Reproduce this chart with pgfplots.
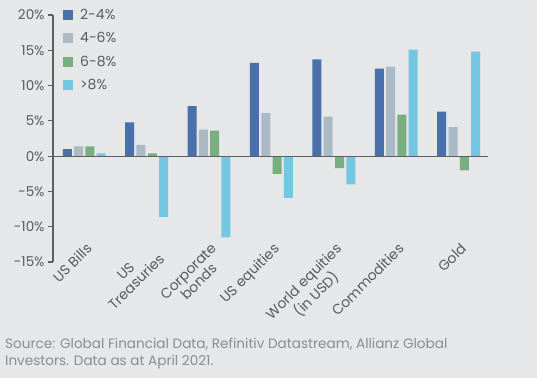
\documentclass[border=0pt]{standalone}
\usepackage{pgfplots}
\pgfplotsset{compat=1.18}
\usepackage{fontspec}
\setmainfont{Poppins}
\definecolor{bg}{HTML}{E6E7E9}
\definecolor{cA}{HTML}{4A70AC}
\definecolor{cB}{HTML}{A9BAC6}
\definecolor{cC}{HTML}{77AF80}
\definecolor{cD}{HTML}{74C7E1}
\definecolor{axgrey}{HTML}{5F5F5F}
\definecolor{txgrey}{HTML}{5A5A5A}
\definecolor{srcgrey}{HTML}{8C8C8C}
\begin{document}
\begin{tikzpicture}
\path[use as bounding box, fill=bg] (-53bp,-116bp) rectangle (484bp,262bp);
\begin{axis}[
  at={(0,0)}, anchor=south west,
  scale only axis, width=435bp, height=247bp,
  xmin=-0.5, xmax=6.47, ymin=-15, ymax=20,
  ybar=2.3bp, bar width=9bp,
  axis x line*=bottom, axis y line*=left,
  x axis line style={draw=none},
  y axis line style={draw=axgrey, line width=1.1bp},
  xtick={0,...,6},
  xticklabels={US Bills,{US\\Treasuries},{Corporate\\bonds},US equities,{World equities\\(in USD)},Commodities,Gold},
  x tick style={draw=none},
  xticklabel style={xshift=1bp, yshift=25bp, rotate=45, anchor=north east, align=center, inner sep=0pt, font=\fontsize{14bp}{15bp}\selectfont, text=txgrey},
  ytick={-15,-10,...,20},
  yticklabel={\pgfmathprintnumber[assume math mode=true]{\tick}\%},
  yticklabel style={font=\fontsize{13.5bp}{16bp}\selectfont, text=txgrey},
  y tick style={draw=axgrey, line width=1.1bp},
  tick align=outside, major tick length=5bp,
  legend style={at={(rel axis cs:0,1)}, anchor=north west, xshift=10bp, yshift=6bp, draw=none, fill=none, inner sep=0pt, row sep=11.5bp, column sep=7bp, font=\fontsize{14bp}{16bp}\selectfont, text=txgrey, nodes={inner sep=0pt}},
  legend cell align=left,
  legend image code/.code={\fill[#1,draw=none] (0bp,-5bp) rectangle (10bp,5bp);},
]
\addplot[fill=cA, draw=none] coordinates {(0,1.0) (1,4.8) (2,7.1) (3,13.2) (4,13.7) (5,12.4) (6,6.3)};
\addplot[fill=cB, draw=none] coordinates {(0,1.4) (1,1.6) (2,3.75) (3,6.1) (4,5.6) (5,12.7) (6,4.1)};
\addplot[fill=cC, draw=none] coordinates {(0,1.4) (1,0.4) (2,3.6) (3,-2.5) (4,-1.7) (5,5.9) (6,-2.0)};
\addplot[fill=cD, draw=none] coordinates {(0,0.4) (1,-8.6) (2,-11.5) (3,-5.9) (4,-4.0) (5,15.1) (6,14.8)};
\legend{2-4\%,4-6\%,6-8\%,>8\%}
\draw[axgrey, line width=1.1bp] (axis cs:-0.5,0) -- (axis cs:6.47,0);
\end{axis}
\node[anchor=base west, align=left, inner sep=0pt, text=srcgrey, font=\fontsize{13.6bp}{17bp}\selectfont] at (-48bp,-103bp) {Source: Global Financial Data, Refinitiv Datastream, Allianz Global\\Investors. Data as at April 2021.};
\end{tikzpicture}
\end{document}
